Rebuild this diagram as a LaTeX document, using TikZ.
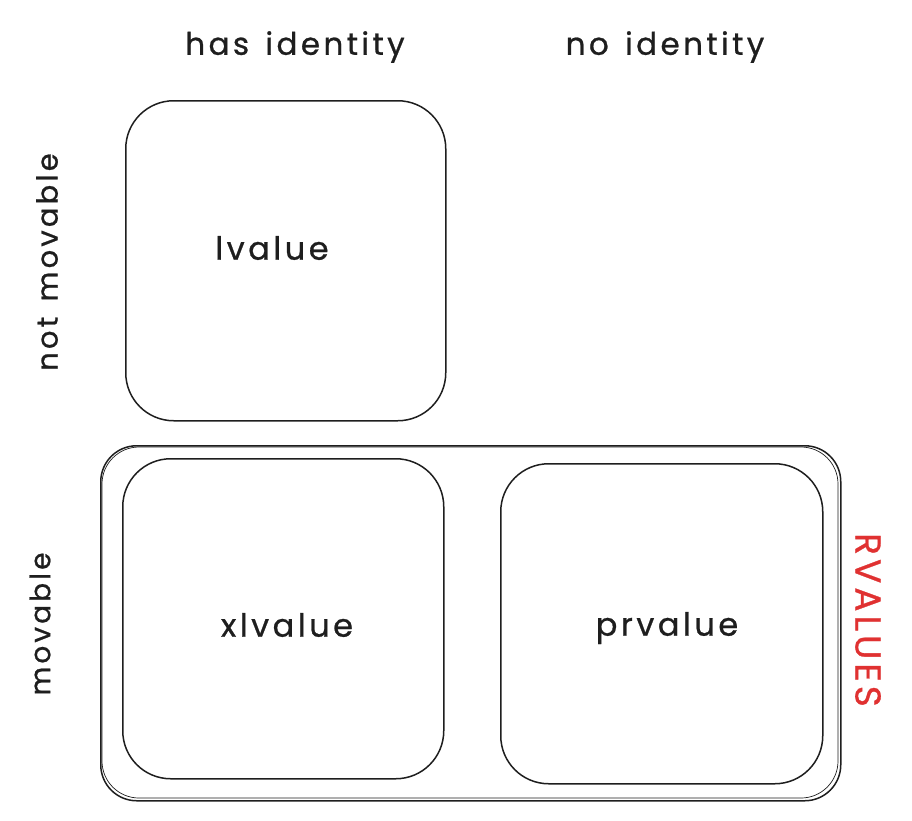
\documentclass[tikz,border=0pt]{standalone}
\usepackage{fontspec}
\setmainfont{Poppins}
\newfontfamily\hand[LetterSpace=11, WordSpace=1.4, FakeBold=0.8]{Poppins}
\definecolor{ink}{HTML}{1E1E1E}
\definecolor{exred}{HTML}{E03131}
\begin{document}
\begin{tikzpicture}[x=1pt,y=-1pt,
  sketchbox/.style={draw=ink, line width=1.5pt, rounded corners=48pt, inner sep=0pt, anchor=north west},
  outerbox/.style={draw=ink, line width=1.5pt, rounded corners=36pt, inner sep=0pt, anchor=north west},
  lbl/.style={text=ink, inner sep=0pt},
  fs/.style={font=\hand\fontsize{#1}{#1}\selectfont}]
\useasboundingbox (0,0) rectangle (912,820);
\fill[white] (0,0) rectangle (912,820);
% outer RVALUES box
\node[outerbox, minimum width=740pt, minimum height=355pt] (outer) at (100,445) {};
\draw[ink, line width=0.7pt, rounded corners=37pt] (102,447) rectangle (838,798);
% boxes
\node[sketchbox, minimum width=320pt, minimum height=320pt] (lv) at (125,100) {};
\node[sketchbox, minimum width=321pt, minimum height=320pt] (xv) at (122,458) {};
\node[sketchbox, minimum width=322pt, minimum height=320pt] (pv) at (500,463) {};
% labels inside
\node[lbl, fs=32] (lvt) at (272,248) {lvalue};
\node[lbl, fs=32] (xvt) at (287,625) {xlvalue};
\node[lbl, fs=32] (pvt) at (667,628) {prvalue};
% column headers
\node[lbl, fs=31] (hid) at (295,47) {has identity};
\node[lbl, fs=31] (nid) at (665,47) {no identity};
% row headers
\node[lbl, fs=29, rotate=90] (nm) at (47,262) {not movable};
\node[lbl, fs=28, rotate=90] (mv) at (40,624) {movable};
% RVALUES
\node[lbl, fs=36, text=exred, rotate=-90] (rv) at (868,620) {RVALUES};
\end{tikzpicture}
\end{document}
